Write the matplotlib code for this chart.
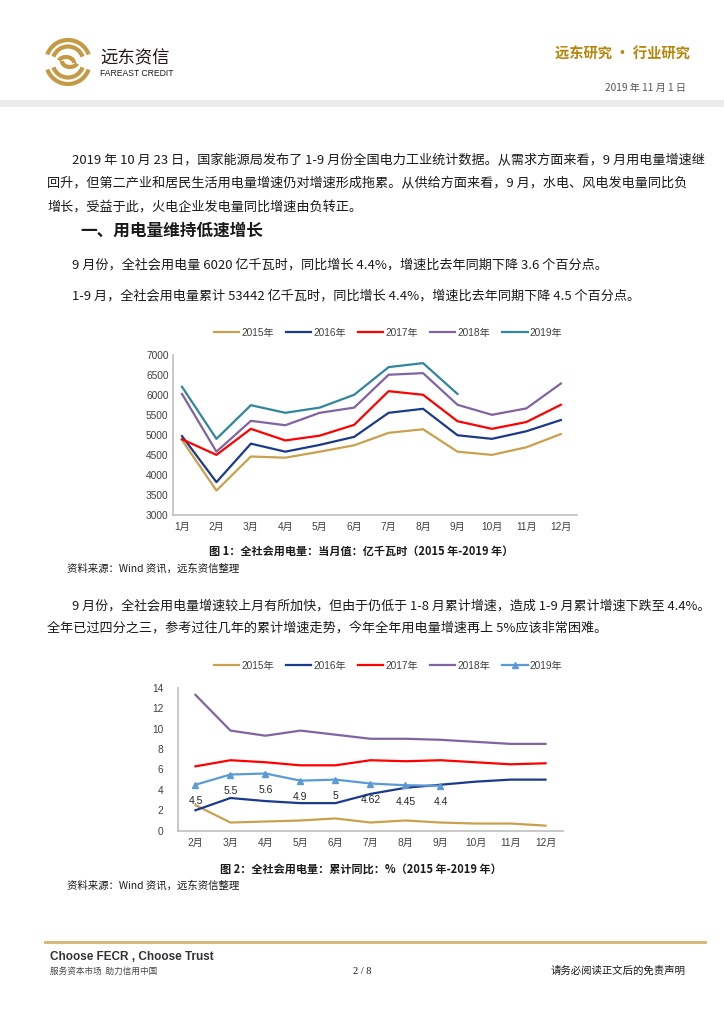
import matplotlib
matplotlib.use("Agg")
import matplotlib.pyplot as plt
from matplotlib.patches import Arc
import numpy as np

plt.rcParams['font.family'] = ['Liberation Sans', 'Noto Sans CJK SC', 'DejaVu Sans']

# ---- data ----
months1 = ['1月', '2月', '3月', '4月', '5月', '6月', '7月', '8月', '9月', '10月', '11月', '12月']
years = ['2015年', '2016年', '2017年', '2018年', '2019年']
monthly = {
    '2015年': [4870, 3610, 4460, 4430, 4580, 4740, 5050, 5140, 4580, 4500, 4690, 5020],
    '2016年': [4970, 3820, 4780, 4580, 4750, 4950, 5550, 5650, 4990, 4900, 5090, 5370],
    '2017年': [4890, 4500, 5150, 4860, 4980, 5250, 6090, 6000, 5340, 5150, 5320, 5750],
    '2018年': [6020, 4580, 5350, 5240, 5550, 5680, 6500, 6540, 5750, 5500, 5660, 6280],
    '2019年': [6200, 4900, 5740, 5550, 5680, 6000, 6690, 6790, 6020],
}

months2 = ['2月', '3月', '4月', '5月', '6月', '7月', '8月', '9月', '10月', '11月', '12月']
cumulative = {
    '2015年': [2.5, 0.8, 0.9, 1.0, 1.2, 0.8, 1.0, 0.8, 0.7, 0.7, 0.5],
    '2016年': [2.0, 3.2, 2.9, 2.7, 2.7, 3.6, 4.2, 4.5, 4.8, 5.0, 5.0],
    '2017年': [6.3, 6.9, 6.7, 6.4, 6.4, 6.9, 6.8, 6.9, 6.7, 6.5, 6.6],
    '2018年': [13.3, 9.8, 9.3, 9.8, 9.4, 9.0, 9.0, 8.9, 8.7, 8.5, 8.5],
    '2019年': [4.5, 5.5, 5.6, 4.9, 5.0, 4.62, 4.45, 4.4],
}
labels2019 = ['4.5', '5.5', '5.6', '4.9', '5', '4.62', '4.45', '4.4']

colors1 = ['#C9A14E', '#1B3A8A', '#FF0000', '#8064A2', '#31859C']
colors2 = ['#C9A14E', '#1B3A8A', '#FF0000', '#8064A2', '#5B9BD5']

W, H = 724, 1024
fig = plt.figure(figsize=(W / 100, H / 100), dpi=100)

# page layer in pixel coordinates
bg = fig.add_axes([0, 0, 1, 1])
bg.set_xlim(0, W)
bg.set_ylim(H, 0)
bg.axis('off')

gold = '#C49A45'
cjk = ['Noto Sans CJK SC', 'DejaVu Sans']
ink = '#1a1a1a'

# logo
cx, cy = 68, 62
for r, lw in [(22, 3.0), (15.5, 3.0)]:
    bg.add_patch(Arc((cx, cy), 2 * r, 2 * r, theta1=200, theta2=340, color=gold, lw=lw))
    bg.add_patch(Arc((cx, cy), 2 * r, 2 * r, theta1=20, theta2=160, color=gold, lw=lw))
bg.add_patch(Arc((cx - 2, cy + 1), 16, 12, theta1=200, theta2=360, color=gold, lw=3.0))
bg.add_patch(Arc((cx + 2, cy - 1), 16, 12, theta1=20, theta2=180, color=gold, lw=3.0))
bg.text(100, 58, '远东资信', fontsize=12.5, family=cjk, color='#231815', va='center')
bg.text(100, 73, 'FAREAST CREDIT', fontsize=6.2, color='#231815', va='center')

bg.text(690, 55, '远东研究 • 行业研究', fontsize=10.3, family=cjk, color='#B8860B',
        fontweight='bold', ha='right', va='center')
bg.text(686, 88, '2019 年 11 月 1 日', fontsize=7.3, family=cjk, color='#555555',
        ha='right', va='center')
bg.add_patch(plt.Rectangle((0, 100), W, 7, color='#E9EBED', lw=0))

body = 9.45
para1 = [
    (72, 161, '2019 年 10 月 23 日，国家能源局发布了 1-9 月份全国电力工业统计数据。从需求方面来看，9 月用电量增速继'),
    (47, 184, '回升，但第二产业和居民生活用电量增速仍对增速形成拖累。从供给方面来看，9 月，水电、风电发电量同比负'),
    (47, 207, '增长，受益于此，火电企业发电量同比增速由负转正。'),
]
for x, y, s in para1:
    bg.text(x, y, s, fontsize=body, family=cjk, color=ink, va='center')

bg.text(80, 231, '一、用电量维持低速增长', fontsize=12, family=cjk, fontweight='bold',
        color=ink, va='center')
bg.text(72, 265, '9 月份，全社会用电量 6020 亿千瓦时，同比增长 4.4%，增速比去年同期下降 3.6 个百分点。',
        fontsize=body, family=cjk, color=ink, va='center')
bg.text(72, 296, '1-9 月，全社会用电量累计 53442 亿千瓦时，同比增长 4.4%，增速比去年同期下降 4.5 个百分点。',
        fontsize=body, family=cjk, color=ink, va='center')

bg.text(361, 551, '图 1：全社会用电量：当月值：亿千瓦时（2015 年-2019 年）', fontsize=8,
        family=cjk, fontweight='bold', color=ink, ha='center', va='center')
bg.text(67, 569, '资料来源：Wind 资讯，远东资信整理', fontsize=7.5, family=cjk, color=ink, va='center')

bg.text(72, 606, '9 月份，全社会用电量增速较上月有所加快，但由于仍低于 1-8 月累计增速，造成 1-9 月累计增速下跌至 4.4%。',
        fontsize=body - 0.1, family=cjk, color=ink, va='center')
bg.text(47, 629, '全年已过四分之三，参考过往几年的累计增速走势，今年全年用电量增速再上 5%应该非常困难。',
        fontsize=body, family=cjk, color=ink, va='center')

bg.text(361, 869, '图 2：全社会用电量：累计同比：%（2015 年-2019 年）', fontsize=8,
        family=cjk, fontweight='bold', color=ink, ha='center', va='center')
bg.text(67, 886, '资料来源：Wind 资讯，远东资信整理', fontsize=7.5, family=cjk, color=ink, va='center')

# footer
bg.plot([45, 705], [942, 942], color='#D6B36E', lw=2)
bg.text(50, 957, 'Choose FECR , Choose Trust', fontsize=8.5, fontweight='bold', color='#333333', va='center')
bg.text(50, 971, '服务资本市场  助力信用中国', fontsize=6.2, family=cjk, color='#444444', va='center')
bg.text(362, 971, '2 / 8', fontsize=7.5, family=['Liberation Serif'], color=ink, ha='center', va='center')
bg.text(685, 971, '请务必阅读正文后的免责声明', fontsize=7.5, family=cjk, color=ink, ha='right', va='center')


def frac(x0, y0, x1, y1):
    return [x0 / W, 1 - y1 / H, (x1 - x0) / W, (y1 - y0) / H]


def style(ax, pad_y):
    for s in ['top', 'right']:
        ax.spines[s].set_visible(False)
    for s in ['left', 'bottom']:
        ax.spines[s].set_color('#BFBFBF')
        ax.spines[s].set_linewidth(1.2)
    ax.tick_params(length=0, labelsize=7.3, colors='#404040')
    ax.tick_params(axis='y', pad=pad_y)
    ax.tick_params(axis='x', pad=5)
    ax.patch.set_alpha(0)


# chart 1
ax1 = fig.add_axes(frac(172.7, 354.7, 577, 515))
x1 = np.arange(len(months1))
for yr, c in zip(years, colors1):
    v = monthly[yr]
    ax1.plot(x1[:len(v)], v, color=c, lw=1.6, label=yr)
ax1.set_xlim(-0.27, 11.47)
ax1.set_ylim(3000, 7000)
ax1.set_yticks(range(3000, 7001, 500))
ax1.set_xticks(x1)
ax1.set_xticklabels(months1)
style(ax1, 3)
ax1.legend(loc='center', bbox_to_anchor=((388 - 172.7) / (577 - 172.7), (515 - 333) / (515 - 354.7)),
           ncol=5, frameon=False, fontsize=7.3, handlelength=2.5, handletextpad=0.2,
           columnspacing=1.2, labelcolor='#404040')

# chart 2
ax2 = fig.add_axes(frac(178.3, 687.7, 563, 830.7))
x2 = np.arange(len(months2))
for yr, c in zip(years, colors2):
    v = cumulative[yr]
    if yr == '2019年':
        ax2.plot(x2[:len(v)], v, color=c, lw=1.6, marker='^', markersize=5, label=yr)
    else:
        ax2.plot(x2[:len(v)], v, color=c, lw=1.6, label=yr)
for xi, v, t in zip(x2, cumulative['2019年'], labels2019):
    ax2.annotate(t, (xi, v), xytext=(0, -12), textcoords='offset points', ha='center',
                 va='center', fontsize=7.5, color='#262626')
ax2.set_xlim(-0.49, 10.5)
ax2.set_ylim(0, 14)
ax2.set_yticks(range(0, 15, 2))
ax2.set_xticks(x2)
ax2.set_xticklabels(months2)
style(ax2, 11)
ax2.legend(loc='center', bbox_to_anchor=((388 - 178.3) / (563 - 178.3), (830.7 - 666) / (830.7 - 687.7)),
           ncol=5, frameon=False, fontsize=7.3, handlelength=2.5, handletextpad=0.2,
           columnspacing=1.2, labelcolor='#404040')

fig.savefig('out.png', dpi=100)
